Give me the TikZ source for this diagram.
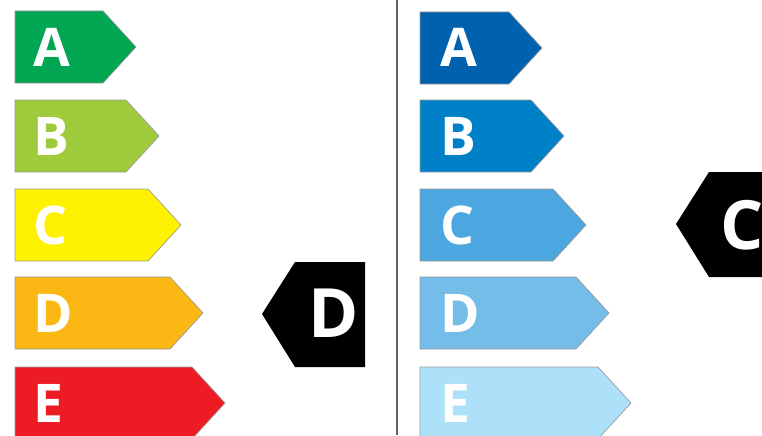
\documentclass[tikz,border=0pt]{standalone}
\usepackage{fontspec}
\setmainfont{Open Sans}
\usetikzlibrary{positioning}

\definecolor{leftA}{HTML}{00A651}
\definecolor{leftB}{HTML}{9DCB3C}
\definecolor{leftC}{HTML}{FFF200}
\definecolor{leftD}{HTML}{FBB815}
\definecolor{leftE}{HTML}{ED1C24}
\definecolor{rightA}{HTML}{0061AF}
\definecolor{rightB}{HTML}{0080C7}
\definecolor{rightC}{HTML}{4CA6DF}
\definecolor{rightD}{HTML}{74BDE8}
\definecolor{rightE}{HTML}{ADE1F9}

\begin{document}
\begin{tikzpicture}[
        x=0.75pt, y=-0.75pt,
        bar/.style={draw=black!40, line width=0.5pt},
        grade/.style={anchor=base west, inner sep=0pt, text=white, font=\fontsize{40}{40}\selectfont\bfseries},
        badge/.style={fill=black},
        badge_text/.style={anchor=base west, inner sep=0pt, text=white, font=\fontsize{51}{51}\selectfont\bfseries},
        divider/.style={draw=black!60, line width=1.9pt}
    ]
        \useasboundingbox (0,0) rectangle (762,435);
        \clip (0,0) rectangle (762,435);

        % left scale
        \path[bar, fill=leftA] (15,11) -- (103,11) -- (136,47) -- (103,83) -- (15,83) -- cycle;
        \path[bar, fill=leftB] (15,100) -- (126,100) -- (159,136) -- (126,172) -- (15,172) -- cycle;
        \path[bar, fill=leftC] (15,189) -- (148,189) -- (181,225) -- (148,261) -- (15,261) -- cycle;
        \path[bar, fill=leftD] (15,277) -- (170,277) -- (203,313) -- (170,349) -- (15,349) -- cycle;
        \path[bar, fill=leftE] (15,367) -- (192,367) -- (225,403) -- (192,439) -- (15,439) -- cycle;

        \node[grade] (gradeLA) at (33,66) {A};
        \node[grade] (gradeLB) at (33,155) {B};
        \node[grade] (gradeLC) at (33,244) {C};
        \node[grade] (gradeLD) at (33,332) {D};
        \node[grade] (gradeLE) at (33,422) {E};

        \path[badge] (262,314) -- (295,262) -- (365,262) -- (365,367) -- (295,367) -- cycle;
        \node[badge_text] (markD) at (308,337) {D};

        % divider
        \coordinate (divTop) at (397,0);
        \coordinate (divBottom) at (397,435);
        \draw[divider] (divTop) -- (divBottom);

        % right scale
        \path[bar, fill=rightA] (420,12) -- (509,12) -- (542,48) -- (509,84) -- (420,84) -- cycle;
        \path[bar, fill=rightB] (420,100) -- (531,100) -- (564,136) -- (531,172) -- (420,172) -- cycle;
        \path[bar, fill=rightC] (420,189) -- (553,189) -- (586,225) -- (553,261) -- (420,261) -- cycle;
        \path[bar, fill=rightD] (420,277) -- (576,277) -- (609,313) -- (576,349) -- (420,349) -- cycle;
        \path[bar, fill=rightE] (420,367) -- (598,367) -- (631,403) -- (598,439) -- (420,439) -- cycle;

        \node[grade] (gradeRA) at (440,66) {A};
        \node[grade] (gradeRB) at (440,155) {B};
        \node[grade] (gradeRC) at (440,244) {C};
        \node[grade] (gradeRD) at (440,332) {D};
        \node[grade] (gradeRE) at (440,422) {E};

        \path[badge] (676,224) -- (709,172) -- (800,172) -- (800,277) -- (709,277) -- cycle;
        \node[badge_text] (markC) at (720,249) {C};

    \end{tikzpicture}
\end{document}
